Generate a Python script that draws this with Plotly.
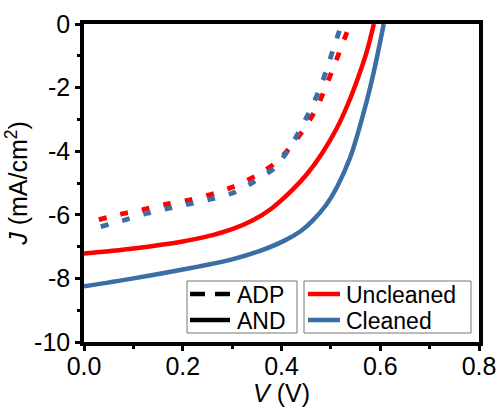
import plotly.graph_objects as go

# Uncleaned AND (solid red)
v_unc_and = [0.0, 0.1, 0.2, 0.25, 0.3, 0.342, 0.38, 0.42, 0.45, 0.482, 0.512, 0.535, 0.557, 0.573, 0.587]
j_unc_and = [-7.22, -7.06, -6.84, -6.68, -6.45, -6.17, -5.8, -5.25, -4.75, -4.07, -3.28, -2.5, -1.6, -0.85, 0.0]

# Cleaned AND (solid blue)
v_cln_and = [0.0, 0.1, 0.2, 0.3, 0.352, 0.405, 0.44, 0.462, 0.49, 0.512, 0.539, 0.567, 0.587, 0.607]
j_cln_and = [-8.25, -8.0, -7.72, -7.4, -7.16, -6.82, -6.5, -6.2, -5.7, -5.14, -4.2, -2.75, -1.5, 0.0]

# Uncleaned ADP (dashed red)
v_unc_adp = [0.03, 0.081, 0.13, 0.172, 0.217, 0.263, 0.304, 0.346, 0.387, 0.421, 0.449, 0.472, 0.49, 0.508, 0.524, 0.539]
j_unc_adp = [-6.15, -5.96, -5.8, -5.65, -5.52, -5.33, -5.11, -4.79, -4.38, -3.82, -3.22, -2.62, -1.96, -1.26, -0.6, 0.0]

# Cleaned ADP (dashed blue)
v_cln_adp = [0.034, 0.079, 0.126, 0.17, 0.217, 0.261, 0.304, 0.342, 0.385, 0.415, 0.439, 0.46, 0.478, 0.494, 0.508, 0.522]
j_cln_adp = [-6.37, -6.18, -5.96, -5.8, -5.65, -5.49, -5.3, -4.98, -4.54, -3.94, -3.28, -2.65, -2.02, -1.32, -0.63, 0.0]

x_ticks = [0.0, 0.2, 0.4, 0.6, 0.8]
x_ticklabels = ["0.0", "0.2", "0.4", "0.6", "0.8"]
y_ticks = [0, -2, -4, -6, -8, -10]
y_ticklabels = ["0", "-2", "-4", "-6", "-8", "-10"]

legend_style_names = ["ADP", "AND"]
legend_sample_names = ["Uncleaned", "Cleaned"]

RED = "#ff0000"
BLUE = "#3a6ea5"
FONT = "Liberation Sans, Arial, sans-serif"
W, H = 499, 407
ML, MR, MT, MB = 84, 20, 24, 65
PW, PH = W - ML - MR, H - MT - MB


def px(x):
    return (x - ML) / PW


def py(y):
    return (H - MB - y) / PH


fig = go.Figure()
fig.add_trace(go.Scatter(x=v_unc_adp, y=j_unc_adp, mode="lines", name="Uncleaned ADP", showlegend=False,
                         line=dict(color=RED, width=4.8, dash="8px,14px", shape="spline", smoothing=0.6)))
fig.add_trace(go.Scatter(x=v_cln_adp, y=j_cln_adp, mode="lines", name="Cleaned ADP", showlegend=False,
                         line=dict(color=BLUE, width=4.8, dash="8px,14px", shape="spline", smoothing=0.6)))
fig.add_trace(go.Scatter(x=v_unc_and, y=j_unc_and, mode="lines", name="Uncleaned AND", showlegend=False,
                         line=dict(color=RED, width=4.5, shape="spline", smoothing=1.0)))
fig.add_trace(go.Scatter(x=v_cln_and, y=j_cln_and, mode="lines", name="Cleaned AND", showlegend=False,
                         line=dict(color=BLUE, width=4.5, shape="spline", smoothing=1.0)))

# legend drawn as boxes, samples and labels
shapes = []
annotations = []
row_y = [294, 320]
shapes.append(dict(type="rect", xref="paper", yref="paper", x0=px(187), x1=px(297), y0=py(333), y1=py(281),
                   line=dict(color="#777777", width=1), fillcolor="white", layer="above"))
shapes.append(dict(type="rect", xref="paper", yref="paper", x0=px(304), x1=px(471), y0=py(333), y1=py(281),
                   line=dict(color="#777777", width=1), fillcolor="white", layer="above"))
for a, b in [(190, 205), (215, 230)]:
    shapes.append(dict(type="line", xref="paper", yref="paper", x0=px(a), x1=px(b), y0=py(row_y[0]), y1=py(row_y[0]),
                       line=dict(color="black", width=4.5), layer="above"))
shapes.append(dict(type="line", xref="paper", yref="paper", x0=px(190), x1=px(230), y0=py(row_y[1]), y1=py(row_y[1]),
                   line=dict(color="black", width=4.5), layer="above"))
for i, col in enumerate([RED, BLUE]):
    shapes.append(dict(type="line", xref="paper", yref="paper", x0=px(308), x1=px(340), y0=py(row_y[i]), y1=py(row_y[i]),
                       line=dict(color=col, width=4.5), layer="above"))
for i, name in enumerate(legend_style_names):
    annotations.append(dict(text=name, xref="paper", yref="paper", x=px(235), y=py(row_y[i] + 1),
                            xanchor="left", yanchor="middle", showarrow=False,
                            font=dict(family=FONT, size=23, color="black")))
for i, name in enumerate(legend_sample_names):
    annotations.append(dict(text=name, xref="paper", yref="paper", x=px(344), y=py(row_y[i] + 1),
                            xanchor="left", yanchor="middle", showarrow=False,
                            font=dict(family=FONT, size=23, color="black")))

fig.update_layout(
    width=W, height=H,
    margin=dict(l=ML, r=MR, t=MT, b=MB),
    plot_bgcolor="white", paper_bgcolor="white",
    font=dict(family=FONT, size=25, color="black"),
    showlegend=False,
    shapes=shapes,
    annotations=annotations,
    xaxis=dict(
        range=[0, 0.8], tickvals=x_ticks, ticktext=x_ticklabels,
        showline=True, linewidth=3.5, linecolor="black", mirror=True,
        ticks="outside", ticklen=5, tickwidth=3, tickcolor="black",
        minor=dict(tickvals=[0.1, 0.3, 0.5, 0.7], ticks="outside", ticklen=3, tickwidth=3, tickcolor="black"),
        showgrid=False, zeroline=False, automargin=False,
        ticklabelstandoff=-6,
        title=dict(text="<i>V</i> (V)", standoff=2, font=dict(size=25)),
        tickfont=dict(size=25),
    ),
    yaxis=dict(
        range=[-10, 0], tickvals=y_ticks, ticktext=y_ticklabels,
        showline=True, linewidth=3.5, linecolor="black", mirror=True,
        ticks="outside", ticklen=5, tickwidth=3, tickcolor="black",
        minor=dict(tickvals=[-1, -3, -5, -7, -9], ticks="outside", ticklen=3, tickwidth=3, tickcolor="black"),
        showgrid=False, zeroline=False, automargin=False,
        title=dict(text="<i>J</i> (mA/cm<sup>2</sup>)", standoff=0, font=dict(size=25)),
        tickfont=dict(size=25),
    ),
)

fig.write_html("out.html")
